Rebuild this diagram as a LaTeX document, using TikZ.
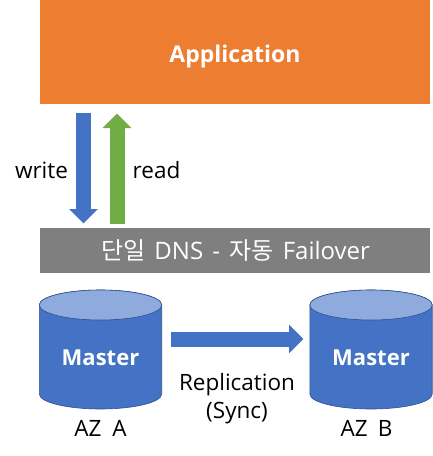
\documentclass[tikz,border=0pt]{standalone}
\usepackage{fontspec}
\setmainfont{Open Sans}
\newfontfamily\krfont{Noto Sans CJK KR}
\usetikzlibrary{arrows.meta}
\definecolor{orangeApp}{HTML}{ED7D31}
\definecolor{blueMain}{HTML}{4472C4}
\definecolor{blueEdge}{HTML}{2F528F}
\definecolor{blueTop}{HTML}{8FAADC}
\definecolor{greenUp}{HTML}{70AD47}
\definecolor{grayBar}{HTML}{7F7F7F}
\tikzset{
  barbox/.style={anchor=north west,inner sep=0pt,text=white},
  dblabel/.style={text=white,font=\fontsize{22}{24}\selectfont\bfseries},
  dbbody/.style={fill=blueMain,draw=blueEdge,line width=0.6pt},
  dbtop/.style={fill=blueTop,draw=blueEdge,line width=0.6pt},
  caption/.style={font=\fontsize{22.5}{26}\selectfont,text=black,inner sep=0pt,align=center},
  blockarrow/.style={line width=15pt,-{Triangle[length=14.5pt,width=28pt]}}
}
\begin{document}
\begin{tikzpicture}[x=1pt,y=-1pt]
\useasboundingbox (0,0) rectangle (432,456);
\node[barbox,fill=orangeApp,minimum width=390pt,minimum height=103.5pt] (app) at (40,0) {};
\node[text=white,font=\fontsize{23}{26}\selectfont\bfseries] (apptext) at (235,57) {Application};
\node[barbox,fill=grayBar,minimum width=390pt,minimum height=45pt] (dns) at (40,228) {};
\node[text=white,font=\fontsize{24}{26}\selectfont] (dnstext) at (235.5,251) {{\krfont 단일}\hspace{3pt} DNS\hspace{3pt} -\hspace{3pt} {\krfont 자동}\hspace{3pt} Failover};
\coordinate (w1) at (83.5,113);
\coordinate (w2) at (83.5,223.5);
\coordinate (r1) at (117,223.5);
\coordinate (r2) at (117,113.5);
\coordinate (s1) at (171,339);
\coordinate (s2) at (303.5,339);
\draw[blockarrow,blueMain] (w1) -- (w2);
\draw[blockarrow,greenUp] (r1) -- (r2);
\draw[blockarrow,blueMain] (s1) -- (s2);
\node[caption] (write) at (41.5,170) {write};
\node[caption] (read) at (156.5,170) {read};
\foreach \cx/\nm in {100.5/dba,371/dbb}{
  \draw[dbbody] (\cx-61.2,305) -- (\cx-61.2,394) arc[start angle=180,end angle=0,x radius=61.2,y radius=15] -- (\cx+61.2,305) arc[start angle=0,end angle=-180,x radius=61.2,y radius=15] -- cycle;
  \draw[dbtop] (\cx,305) ellipse[x radius=61.2,y radius=15];
  \node[dblabel] (\nm) at (\cx,358) {Master};
}
\node[caption] (aza) at (100.5,428) {AZ\hspace{11pt}A};
\node[caption] (azb) at (366.5,428) {AZ\hspace{10pt}B};
\node[caption] (rep) at (237,399) {Replication\\[2pt](Sync)};
\end{tikzpicture}
\end{document}
